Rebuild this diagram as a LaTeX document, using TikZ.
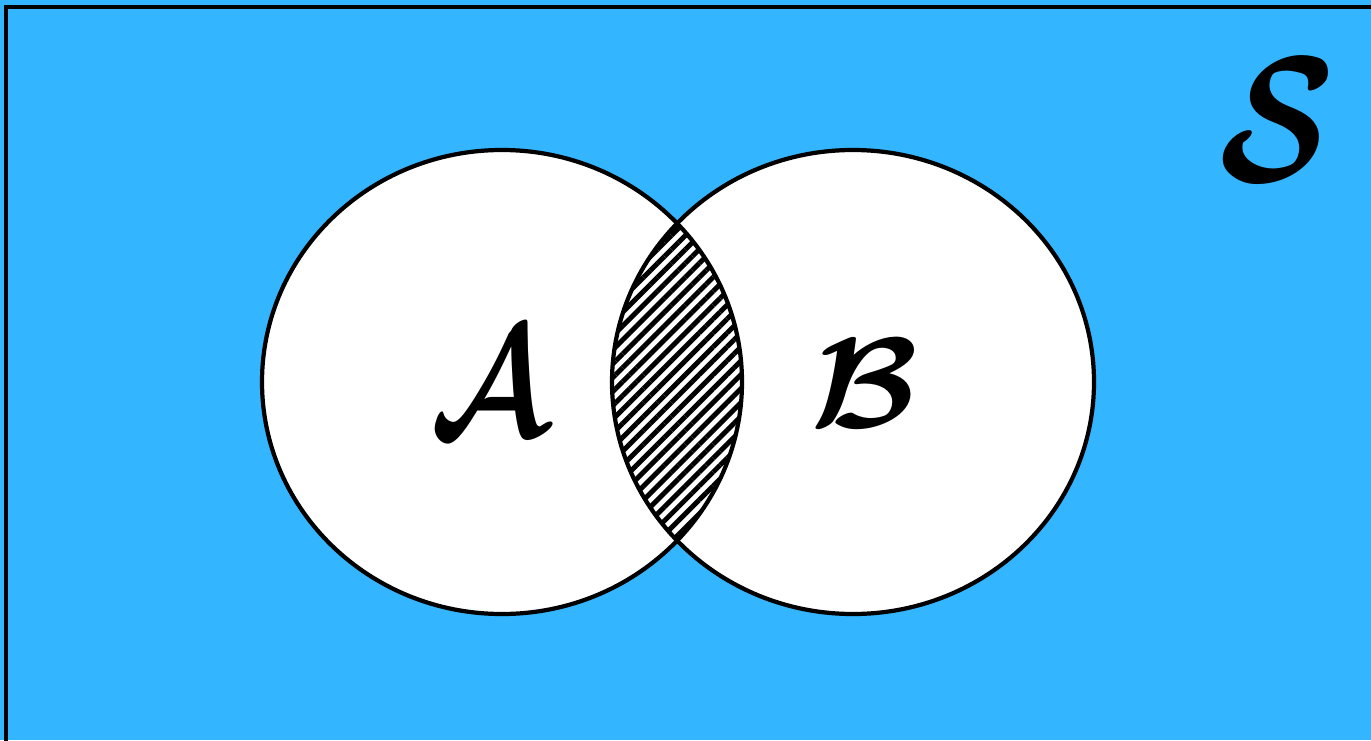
\documentclass[tikz,border=0pt]{standalone}
\usepackage{amsmath,amssymb,bm}
\usetikzlibrary{patterns.meta}
\definecolor{skyb}{RGB}{51,181,255}
\begin{document}
\begin{tikzpicture}[x=0.02cm,y=-0.02cm,
  setline/.style={line width=2.4pt,draw=black},
  lbl/.style={inner sep=0pt}]
\useasboundingbox (0,0) rectangle (1371,740);
\fill[skyb] (0,0) rectangle (1371,740);
\draw[line width=2.5pt] (6,760) -- (6,7) -- (1390,7);
\coordinate (ca) at (502,382);
\coordinate (cb) at (853,382);
\fill[white] (ca) ellipse [x radius=240, y radius=232];
\fill[white] (cb) ellipse [x radius=241, y radius=232];
\begin{scope}
  \clip (ca) ellipse [x radius=240, y radius=232];
  \fill[pattern={Lines[angle=45,distance=5.6pt,line width=2.8pt]},pattern color=black] (cb) ellipse [x radius=241, y radius=232];
\end{scope}
\draw[setline] (ca) ellipse [x radius=240, y radius=232];
\draw[setline] (cb) ellipse [x radius=241, y radius=232];
\node[lbl] (la) at (489,383) {\scalebox{7.2}[8.9]{$\bm{\mathcal{A}}$}};
\node[lbl] (lb) at (865,383) {\scalebox{8}[7.3]{$\bm{\mathcal{B}}$}};
\node[lbl] (ls) at (1277,120) {\scalebox{8.6}[10.2]{$\bm{\mathcal{S}}$}};
\end{tikzpicture}
\end{document}
